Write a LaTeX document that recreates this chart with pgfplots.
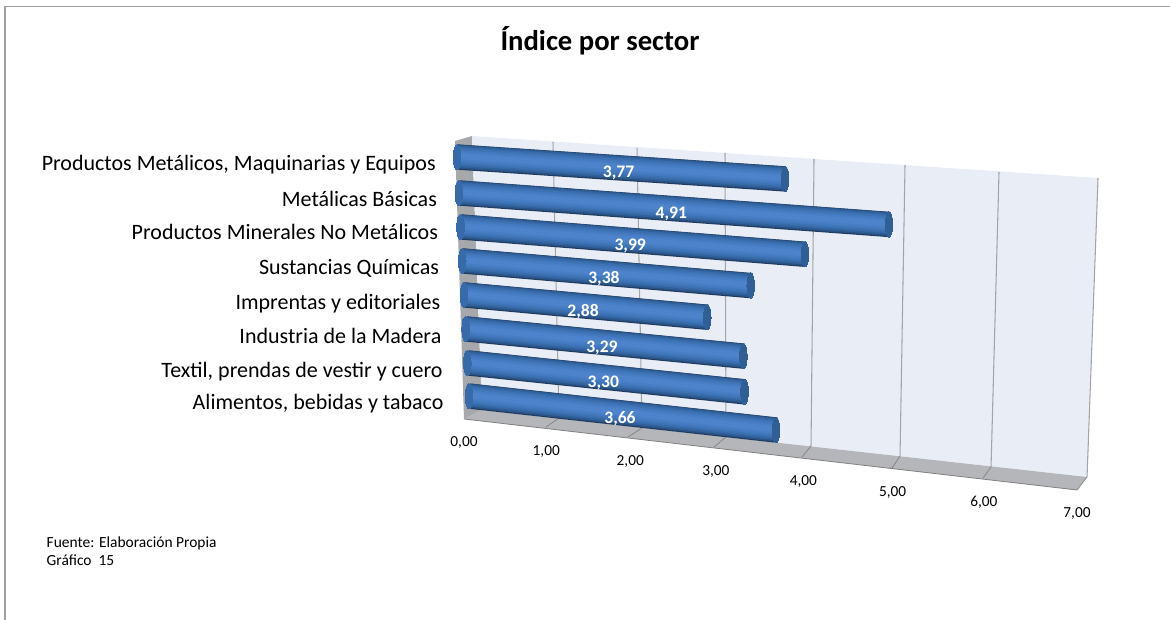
\documentclass[border=0pt]{standalone}
\usepackage{fontspec}
\setmainfont{Carlito}
\usepackage{pgfplots}
\pgfplotsset{compat=1.18}

\definecolor{wallback}{HTML}{E9EEF6}
\definecolor{wallside}{HTML}{A6A8AB}
\definecolor{wallfloor}{HTML}{B4B6B9}
\definecolor{gridgray}{HTML}{A4A4A4}
\definecolor{framegray}{HTML}{A0A0A0}

% picture scale: 1 px of the reference = 0.75pt
% one line or polygon given in reference pixels, turned into axis coordinates
\newcommand{\wall}[2]{\addplot[#1] table[row sep=\\, x expr={pxtox(\thisrow{a},\thisrow{b})}, y expr={pxtoy(\thisrow{a},\thisrow{b})}] {a b\\#2};}

% one layer of a cylinder: width, up-shift, colour, value, row
\newcommand{\cyllayer}[5]{\addplot[line width=#1pt, yshift=#2pt, color=#3]
  table[row sep=\\, x expr={barx(\thisrow{v},#5)}, y expr={bary(\thisrow{v},#5)}] {v\\0\\#4\\};}

% end of a cylinder: the ellipse at a given value
\newcommand{\cylend}[3]{\addplot[only marks, mark=*, mark size=9.5, mark options={xscale=0.3, line width=0pt, draw=#1, fill=#1}]
    table[row sep=\\, x expr={barx(\thisrow{v},#3)}, y expr={bary(\thisrow{v},#3)}] {v\\#2\\};}

\newcommand{\cyl}[2]{%
  \cylend{cyl4}{0}{#2}
  \cyllayer{19}{0}{cyl1}{#1}{#2}
  \cyllayer{18}{0.3}{cyl2}{#1}{#2}
  \cyllayer{16.4}{0.5}{cyl3}{#1}{#2}
  \cyllayer{14.3}{0.6}{cyl4}{#1}{#2}
  \cyllayer{12.1}{0.6}{cyl5}{#1}{#2}
  \cyllayer{9.5}{0.6}{cyl6}{#1}{#2}
  \cyllayer{6.9}{0.6}{cyl7}{#1}{#2}
  \cyllayer{4.2}{0.6}{cyl8}{#1}{#2}
  \cylend{cylcap}{#1}{#2}
}

\newcommand{\cyllabel}[2]{\addplot[only marks, mark=none, point meta=#1,
    nodes near coords, nodes near coords align={center},
    every node near coord/.style={font=\fontsize{13.2pt}{15pt}\selectfont\bfseries, text=white, anchor=center, inner sep=0pt, xshift=-1.9pt, yshift=-4pt}]
  table[row sep=\\, x expr={(barx(0,#2)+barx(#1,#2))/2}, y expr={(bary(0,#2)+bary(#1,#2))/2}] {v\\#1\\};}

\definecolor{cyl1}{HTML}{1F3B60}
\definecolor{cyl2}{HTML}{2A5182}
\definecolor{cyl3}{HTML}{30609A}
\definecolor{cyl4}{HTML}{376AA9}
\definecolor{cyl5}{HTML}{3D72B5}
\definecolor{cyl6}{HTML}{4379BE}
\definecolor{cyl7}{HTML}{487EC5}
\definecolor{cyl8}{HTML}{4D83CB}
\definecolor{cylcap}{HTML}{2F5F95}

\begin{document}
\begin{tikzpicture}
\useasboundingbox (0,0) rectangle (877.5pt,465pt);
\draw[color=framegray, line width=1.2pt] (3.9pt,0) -- (3.9pt,460.1pt) -- (877.5pt,460.1pt);
\begin{axis}[
    at={(348pt,150.75pt)}, anchor=origin,
    x={(65.68pt,-7.605pt)}, y={(-6.75pt,208.5pt)},
    xmin=0, xmax=7, ymin=0, ymax=1,
    clip=false,
    axis line style={draw=none},
    major tick length=0pt,
    xtick pos=lower, ytick pos=left,
    xticklabel pos=lower, yticklabel pos=left,
    xtick={0,0.939,1.898,2.876,3.875,4.895,5.936,7},
    xticklabels={{0,00},{1,00},{2,00},{3,00},{4,00},{5,00},{6,00},{7,00}},
    ytick={0.921,0.791,0.673,0.547,0.421,0.299,0.176,0.061},
    yticklabels={{Productos Metálicos, Maquinarias y Equipos},{Metálicas Básicas},{Productos Minerales No Metálicos},{Sustancias Químicas},{Imprentas y editoriales},{Industria de la Madera},{Textil, prendas de vestir y cuero},{Alimentos, bebidas y tabaco}},
    xticklabel style={font=\fontsize{11.5pt}{13pt}\selectfont, anchor=base, inner sep=0pt, yshift=-20.6pt},
    yticklabel style={font=\fontsize{16.5pt}{19pt}\selectfont, anchor=base east, inner sep=0pt, xshift=-14.8pt, yshift=-5.7pt},
    title={Índice por sector},
    title style={font=\fontsize{21.5pt}{24pt}\selectfont\bfseries, at={(axis description cs:0.2331,1.265)}, anchor=center, inner sep=0pt},
    /pgf/number format/.cd, use comma, fixed, fixed zerofill, precision=2, assume math mode=true,
    /pgfplots/.cd,
    declare function={
      warp(\v)=0.93*\v/(1-0.01*\v);
      barx(\v,\r)=0.0658-0.0569*(\r-0.085)+(0.9925+0.0437*(\r-0.085))*warp(\v);
      bary(\v,\r)=\r+(0.0016+0.0167*(\r-0.085))*warp(\v);
      pxtox(\a,\b)=(278*(\a-464)-9*(\b-419))/24253;
      pxtoy(\a,\b)=(10.14*(\a-464)-87.57*(\b-419))/24253;
    },
  ]
  % walls of the 3D box
  \wall{fill=wallside, draw=none}{455 141\\472 136\\482 410\\464 419\\}
  \wall{fill=wallback, draw=none}{472 136\\1098 178\\1087 477\\482 410\\}
  \wall{fill=wallfloor, draw=none}{464 419\\482 410\\1087 477\\1077 490\\}
  % gridlines on the back wall
  \wall{gridgray, line width=0.8pt}{553 142\\559 418\\}
  \wall{gridgray, line width=0.8pt}{637 148\\642 428\\}
  \wall{gridgray, line width=0.8pt}{725 153\\726 437\\}
  \wall{gridgray, line width=0.8pt}{814 159\\811 446\\}
  \wall{gridgray, line width=0.8pt}{905 165\\900 456\\}
  \wall{gridgray, line width=0.8pt}{999 172\\991 467\\}
  \wall{gridgray, line width=0.8pt}{1098 178\\1087 477\\}
  % gridlines on the floor
  \wall{gray, line width=0.5pt}{546 427\\559 418\\}
  \wall{gray, line width=0.5pt}{628 437\\642 428\\}
  \wall{gray, line width=0.5pt}{714 447\\726 437\\}
  \wall{gray, line width=0.5pt}{802 457\\811 446\\}
  \wall{gray, line width=0.5pt}{892 468\\900 456\\}
  \wall{gray, line width=0.5pt}{983 478\\991 467\\}
  \wall{gray, line width=0.5pt}{1077 490\\1087 477\\}
  \wall{gray, line width=0.6pt}{464 419\\1077 490\\}
  % bars: value, row position
  \cyl{3.77}{0.943}
  \cyl{4.91}{0.814}
  \cyl{3.99}{0.692}
  \cyl{3.38}{0.570}
  \cyl{2.88}{0.448}
  \cyl{3.29}{0.326}
  \cyl{3.30}{0.204}
  \cyl{3.66}{0.085}
  \cyllabel{3.77}{0.943}
  \cyllabel{4.91}{0.814}
  \cyllabel{3.99}{0.692}
  \cyllabel{3.38}{0.570}
  \cyllabel{2.88}{0.448}
  \cyllabel{3.29}{0.326}
  \cyllabel{3.30}{0.204}
  \cyllabel{3.66}{0.085}
\end{axis}
\node[anchor=base west, inner sep=0pt, font=\fontsize{11.6pt}{13pt}\selectfont] at (34.8pt,54.7pt) {Fuente: Elaboración Propia};
\node[anchor=base west, inner sep=0pt, font=\fontsize{11.6pt}{13pt}\selectfont] at (34.8pt,40.7pt) {Gráfico\ \ 15};
\end{tikzpicture}
\end{document}
